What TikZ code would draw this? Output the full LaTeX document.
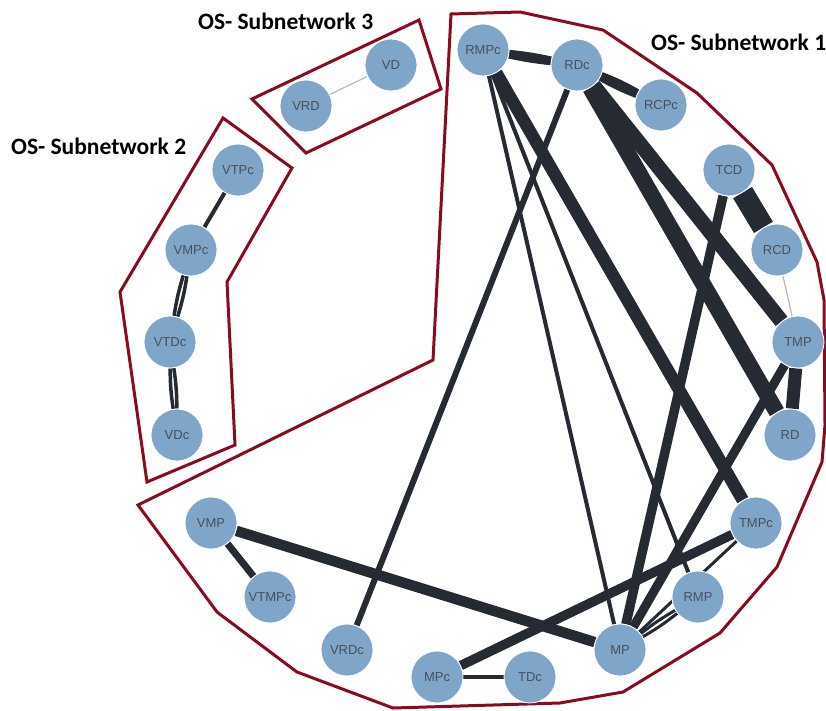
\documentclass[tikz,border=0pt]{standalone}
\usepackage{fontspec}
\newfontfamily\nodefont{Liberation Sans}
\newfontfamily\titlefont{Carlito}
\definecolor{nodeblue}{HTML}{7FA6C8}
\definecolor{edgegray}{HTML}{262B33}
\definecolor{hullred}{HTML}{8B0A1E}
\definecolor{labelgray}{HTML}{46505C}
\definecolor{faintgray}{HTML}{B8B8B8}
\pgfdeclarelayer{background}
\pgfsetlayers{background,main}
\tikzset{
  vertex/.style={circle, fill=nodeblue, draw=white, line width=0.8pt,
    minimum size=52pt, inner sep=0pt,
    font=\nodefont\fontsize{13}{15}\selectfont, text=labelgray},
  link/.style={draw=edgegray, line width=#1},
  faint/.style={draw=faintgray, line width=1.2pt},
  hull/.style={draw=hullred, line width=3pt, line join=miter},
  caption/.style={font=\titlefont\bfseries\fontsize{23.5}{26}\selectfont,
    text=black, anchor=west, inner sep=0pt}
}
\begin{document}
\begin{tikzpicture}[x=1pt,y=-1pt]
\useasboundingbox (0,0) rectangle (826,711);

% vertices
\node[vertex] (RMPc)  at (483,50)  {RMPc};
\node[vertex] (RDc)   at (577,65)  {RDc};
\node[vertex] (RCPc)  at (661,105) {RCPc};
\node[vertex] (TCD)   at (729,170) {TCD};
\node[vertex] (RCD)   at (777,250) {RCD};
\node[vertex] (TMP)   at (798,342) {TMP};
\node[vertex] (RD)    at (790,435) {RD};
\node[vertex] (TMPc)  at (756,523) {TMPc};
\node[vertex] (RMP)   at (698,597) {RMP};
\node[vertex] (MP)    at (620,650) {MP};
\node[vertex] (TDc)   at (530,677) {TDc};
\node[vertex] (MPc)   at (437,677) {MPc};
\node[vertex] (VRDc)  at (347,650) {VRDc};
\node[vertex] (VTMPc) at (270,597) {VTMPc};
\node[vertex] (VMP)   at (211,523) {VMP};
\node[vertex] (VDc)   at (177,435) {VDc};
\node[vertex] (VTDc)  at (170,342) {VTDc};
\node[vertex] (VMPc)  at (191,250) {VMPc};
\node[vertex] (VTPc)  at (238,170) {VTPc};
\node[vertex] (VRD)   at (306,106) {VRD};
\node[vertex] (VD)    at (391,65)  {VD};

% subnetwork captions
\node[caption] (cap3) at (198,21)  {OS- Subnetwork 3};
\node[caption] (cap2) at (11,146)  {OS- Subnetwork 2};
\node[caption] (cap1) at (651,42)  {OS- Subnetwork 1};

\begin{pgfonlayer}{background}
  % subnetwork hulls
  \draw[hull] (451,14) -- (520,12) -- (603,30) -- (697,93) -- (772,165)
    -- (817,262) -- (824,300) -- (825,425) -- (822,462) -- (777,567)
    -- (720,633) -- (623,692) -- (560,703) -- (393,708) -- (297,672)
    -- (217,612) -- (138,505) -- (433,360) -- cycle;
  \draw[hull] (223,118) -- (292,168) -- (227,282) -- (235,445)
    -- (147,482) -- (120,292) -- cycle;
  \draw[hull] (252,99) -- (419,20) -- (441,89) -- (306,153) -- cycle;

  % subnetwork 1 links
  \draw[link=6pt] (RMPc) to[bend left=3] (RDc);
  \draw[link=6pt] (RMPc) to[bend right=3] (RDc);
  \draw[link=5.5pt] (RDc) to[bend left=4] (RCPc);
  \draw[link=5.5pt] (RDc) to[bend right=4] (RCPc);
  \draw[link=12.5pt] (RMPc) -- (TMPc);
  \draw[link=4pt] (RMPc) -- (MP);
  \draw[link=4pt] (RMPc) -- (RMP);
  \draw[link=15pt] (RDc) -- (TMP);
  \draw[link=16pt] (RDc) -- (RD);
  \draw[link=6pt] (RDc) -- (VRDc);
  \draw[link=22pt] (TCD) -- (RCD);
  \draw[faint] (RCD) -- (TMP);
  \draw[link=13pt] (TMP) -- (RD);
  \draw[link=9.5pt] (TCD) -- (MP);
  \draw[link=9pt] (TMP) -- (MP);
  \draw[link=9.5pt] (MPc) -- (TMPc);
  \draw[link=4pt] (MPc) -- (TDc);
  \draw[link=10.5pt] (VMP) -- (MP);
  \draw[link=7pt] (VMP) -- (VTMPc);
  \draw[link=3pt] (MP) to[bend left=4] (RMP);
  \draw[link=3pt] (MP) to[bend right=4] (RMP);
  \draw[link=3pt] (MP) -- (TMPc);

  % subnetwork 2 links
  \draw[link=4pt] (VTPc) -- (VMPc);
  \draw[link=3.5pt] (VMPc) to[bend left=4] (VTDc);
  \draw[link=3.5pt] (VMPc) to[bend right=4] (VTDc);
  \draw[link=3.5pt] (VTDc) to[bend left=4] (VDc);
  \draw[link=3.5pt] (VTDc) to[bend right=4] (VDc);

  % subnetwork 3 link
  \draw[faint] (VRD) -- (VD);
\end{pgfonlayer}
\end{tikzpicture}
\end{document}
